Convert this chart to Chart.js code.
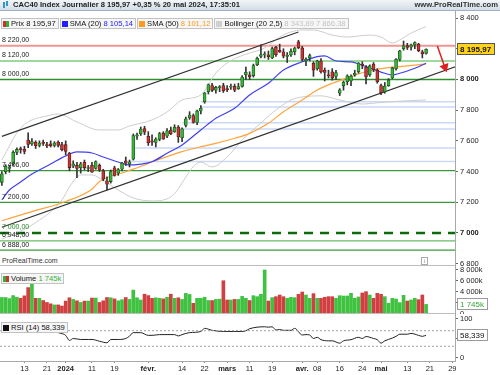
<!DOCTYPE html>
<html>
<head>
<meta charset="utf-8">
<script src="https://cdn.jsdelivr.net/npm/chart.js@4.4.1/dist/chart.umd.min.js"></script>
<style>
  body { margin: 0; width: 500px; height: 375px; overflow: hidden; background: #fff; position: relative;
         font-family: "Liberation Sans", Arial, sans-serif; color: #111; }
  canvas { position: absolute; left: 0; background: #fff; }
  .ov { position: absolute; white-space: nowrap; }
  #hdr { left: 0; top: 0; width: 500px; height: 10px; line-height: 10px; font-size: 7.6px; font-weight: bold;
         background: linear-gradient(#f2f5f8, #d4dde7); border-bottom: 1px solid #9fb0c2; color: #222; }
  .box { display: inline-block; height: 9px; line-height: 9px; border: 1px solid #c2c2c2; background: #f6f6f6;
         font-size: 7.6px; padding: 0 2px 0 1px; margin-right: 1px; }
  .sw { display: inline-block; width: 6px; height: 6px; margin-right: 2px; vertical-align: -0.5px; }
</style>
</head>
<body>
<canvas id="main" width="500" height="257" style="top:11px"></canvas>
<canvas id="vol" width="500" height="50" style="top:266px"></canvas>
<canvas id="rsi" width="500" height="61" style="top:314px"></canvas>

<div id="hdr" class="ov">
  <span style="position:absolute;left:3px;top:2px;width:2px;height:6px;background:#2b9ac9"></span>
  <span style="position:absolute;left:6px;top:1px;width:2px;height:5px;background:#2b9ac9"></span>
  <span style="position:absolute;left:13px">CAC40 Index Journalier 8 195,97 +0,35 % 20 mai 2024, 17:35:01</span>
  <span style="position:absolute;right:2px;color:#333">www.ProRealTime.com</span>
</div>
<div class="ov" style="left:1px;top:12px">
  <span class="box"><span class="sw" style="background:linear-gradient(90deg,#c83232 50%,#35b035 50%)"></span>Prix 8 195,97</span><span class="box"><span class="sw" style="background:#2020ff"></span>SMA (20) <span style="color:#2020ff">8 105,14</span></span><span class="box"><span class="sw" style="background:#ff9a1a"></span>SMA (50) <span style="color:#ff9a1a">8 101,12</span></span><span class="box"><span class="sw" style="background:#cfcfcf"></span>Bollinger (20 2,5) <span style="color:#c4c4c4">8 343,89 7 866,38</span></span>
</div>
<div class="ov" style="left:0;top:256px;width:455px;height:9px;background:#fff;border-bottom:1px solid #bdbdbd;font-size:7px;line-height:9px;color:#333">
  &nbsp;ProRealTime.com
  <span style="position:absolute;left:421px;top:1px;width:5px;height:6px;border:1px solid #aaa;font-size:5px;line-height:6px;text-align:center;color:#666">i</span>
</div>
<div class="ov" style="left:0;top:313px;width:455px;height:1px;background:#bdbdbd"></div>
<div class="ov" style="left:1px;top:267px"><span class="box"><span class="sw" style="background:linear-gradient(90deg,#35b035 50%,#c83232 50%)"></span>Volume <span style="color:#35b035">1 745k</span></span></div>
<div class="ov" style="left:1px;top:316px"><span class="box"><span class="sw" style="background:#111"></span>RSI (14) 58,339</span></div>

<script>
// sessions (dd/mm), Dec 2023 -> end of May 2024, last 8 are future days on the axis
const dates = [
  '05/12','06/12','07/12','08/12','11/12','12/12','13/12','14/12','15/12','18/12','19/12','20/12','21/12','22/12','27/12','28/12','29/12',
  '02/01','03/01','04/01','05/01','08/01','09/01','10/01','11/01','12/01','15/01','16/01','17/01','18/01','19/01','22/01','23/01','24/01','25/01','26/01','29/01','30/01','31/01',
  '01/02','02/02','05/02','06/02','07/02','08/02','09/02','12/02','13/02','14/02','15/02','16/02','19/02','20/02','21/02','22/02','23/02','26/02','27/02','28/02','29/02',
  '01/03','04/03','05/03','06/03','07/03','08/03','11/03','12/03','13/03','14/03','15/03','18/03','19/03','20/03','21/03','22/03','25/03','26/03','27/03','28/03',
  '02/04','03/04','04/04','05/04','08/04','09/04','10/04','11/04','12/04','15/04','16/04','17/04','18/04','19/04','22/04','23/04','24/04','25/04','26/04','29/04','30/04',
  '02/05','03/05','06/05','07/05','08/05','09/05','10/05','13/05','14/05','15/05','16/05','17/05','20/05',
  '21/05','22/05','23/05','24/05','27/05','28/05','29/05','30/05'
];

const opens = [
  7330,7400,7420,7450,7525,7545,7545,7605,7580,7590,7570,7590,7575,7580,7570,7590,7575,
  7575,7520,7435,7440,7425,7460,7420,7440,7420,7440,7405,7340,7335,7425,7390,7415,7470,7450,7480,7630,7645,7680,
  7630,7600,7590,7610,7650,7630,7670,7660,7690,7620,7700,7750,7765,7720,7795,7855,7920,7960,7930,7945,7960,
  7935,7950,7955,7940,7955,8030,8030,8025,8095,8150,8160,8160,8140,8210,8190,8180,8150,8160,8180,8245,
  8205,8120,8140,8105,8070,8120,8060,8030,8050,8020,7910,7960,7985,7990,8030,8050,8100,8080,8030,8100,8060,
  7960,7920,7960,8010,8070,8130,8200,8220,8210,8225,8230,8180,8170
];
const highs = [
  7400,7445,7440,7535,7555,7560,7565,7653,7615,7600,7600,7605,7590,7600,7595,7600,7590,
  7600,7525,7470,7460,7460,7475,7440,7460,7470,7450,7415,7365,7410,7435,7420,7460,7495,7475,7645,7650,7690,7695,
  7660,7640,7620,7655,7660,7680,7690,7705,7700,7685,7755,7790,7775,7800,7830,7915,7970,7975,7955,7960,7975,
  7960,7970,7970,7975,8025,8080,8050,8100,8145,8225,8180,8185,8210,8215,8230,8200,8175,8200,8210,8255,
  8215,8140,8165,8115,8125,8135,8075,8060,8070,8060,7940,7990,8030,8030,8060,8110,8115,8090,8095,8110,8070,
  7970,7980,8005,8080,8135,8190,8250,8235,8230,8245,8235,8190,8200
];
const lows = [
  7310,7385,7395,7440,7510,7520,7515,7555,7570,7550,7560,7570,7555,7560,7560,7560,7535,
  7510,7405,7425,7360,7390,7410,7400,7395,7415,7400,7340,7280,7325,7370,7375,7405,7440,7430,7475,7610,7635,7640,
  7570,7570,7560,7600,7610,7620,7640,7655,7590,7595,7690,7740,7715,7705,7775,7845,7905,7920,7910,7920,7915,
  7920,7935,7920,7935,7950,8000,8000,8015,8090,8140,8140,8130,8135,8150,8175,8140,8110,8150,8160,8200,
  8120,8090,8120,8020,8060,8040,7990,8010,7995,8000,7895,7930,7965,7960,8020,8040,8070,7970,8020,8050,7975,
  7900,7910,7955,8005,8060,8120,8190,8195,8190,8200,8180,8140,8165
];
const closes = [
  7386,7435,7427,7526,7544,7543,7531,7576,7596,7568,7586,7583,7569,7569,7585,7571,7543,
  7531,7426,7450,7420,7450,7426,7426,7396,7465,7411,7350,7318,7400,7375,7413,7456,7455,7464,7634,7640,7677,7656,
  7588,7592,7612,7647,7611,7665,7647,7689,7625,7678,7743,7768,7720,7795,7812,7911,7966,7929,7948,7954,7927,
  7934,7957,7930,7954,8016,8046,8018,8090,8138,8161,8164,8148,8201,8161,8179,8151,8152,8184,8204,8206,
  8130,8131,8155,8061,8119,8049,8045,8024,8010,8045,7932,7981,8023,8022,8040,8106,8091,8016,8088,8065,7985,
  7914,7957,7996,8075,8131,8187,8219,8209,8224,8240,8188,8167,8195.97
];
// volume, thousands
const volumes = [
  3000,3000,2800,3350,3050,2850,3300,4800,6800,2850,2850,2450,2100,1850,1650,1650,1450,
  2350,2950,2650,2400,2100,2350,2350,2900,2900,2100,2400,3000,2950,2750,2400,2600,3000,2650,4350,2950,2550,3600,
  3350,2850,2950,2850,2750,3050,3600,2850,2950,2650,3750,3550,1950,2850,2850,3050,2450,2450,2650,2700,6050,
  2550,2550,2650,2650,3200,2850,2450,3330,3150,3580,8000,2360,2970,3150,3450,3150,2850,3030,2970,3580,
  4000,3450,2850,3700,2850,2850,3030,3150,3150,2850,3330,3270,3270,3760,2850,3100,3820,4060,3450,2850,3760,
  3580,3150,1940,2850,2730,2060,3390,2360,2550,2850,2610,3450,1745
];

// indicator lines: session index -> value
const sma20At  = [0,2,5,8,13,17,20,24,27,31,34,37,40,44,48,53,57,62,66,71,75,80,84,86,89,93,97,101,104,106,110,113];
const sma20Val = [7215,7280,7332,7384,7449,7502,7528,7521,7495,7462,7443,7449,7464,7519,7573,7671,7747,7812,7899,7975,8061,8115,8148,8153,8120,8114,8083,8048,8029,8040,8073,8105];
const sma50At  = [0,8,17,24,26,33,38,40,44,48,53,57,62,66,71,75,80,84,88,93,97,102,106,113];
const sma50Val = [7080,7139,7205,7285,7335,7399,7443,7464,7497,7530,7562,7584,7617,7649,7714,7790,7866,7931,7975,8018,8050,8073,8083,8101];
const bollUpAt  = [0,5,13,15,20,26,31,34,40,44,48,53,57,60,63,66,70,74,77,80,83,88,92,98,101,104,106,109,113];
const bollUpVal = [7476,7684,7768,7775,7723,7671,7671,7697,7736,7788,7866,7899,8042,8107,8146,8172,8205,8276,8309,8322,8322,8289,8276,8289,8276,8237,8257,8302,8344];
const bollLoAt  = [0,8,16,18,21,24,26,31,35,40,45,53,56,60,64,69,72,77,80,85,90,96,101,107,113];
const bollLoVal = [6960,7052,7215,7300,7378,7378,7358,7280,7228,7209,7235,7462,7430,7495,7606,7716,7782,7866,7886,7893,7866,7840,7850,7860,7866];
const rsiAt  = [0,2,5,7,9,11,13,15,16,17,18,19,21,23,24,26,28,29,31,33,34,35,37,39,40,42,44,46,47,48,50,53,54,56,59,60,62,64,65,66,68,70,71,72,73,74,75,77,78,80,81,82,83,84,85,87,88,90,91,93,95,96,97,99,100,101,102,104,105,106,108,109,111,112,113];
const rsiVal = [68,70.5,70,74.6,73,70.5,68,65,62.5,58,45,50,47.5,47.5,47.5,43,39,47.5,47.5,50,56,65,65,58,58,60,60,60,56.5,60,65,68,76,71,68,68,68,68,70,75,79,80,79,80,71.7,73,71,71,76,59,60,59,50,53,47,44,44,38,44,47,53,50,55,50,47,38,44,51,55.5,61,61,63,58,55.5,58.339];

// drawn levels
const levelPrices = [8220, 8120, 8000, 7406, 7200, 7000, 6948, 6888];
const supportPrices = [7855, 7821, 7718, 7677, 7554, 7465];
const supportFrom = [53, 53, 48, 45, 35, 34];
const upperTrendAt = [0, 79], upperTrendPrice = [7629, 8309];
const lowerTrendAt = [0, 121], lowerTrendPrice = [7037, 8084];
const arrowAt = [116, 118], arrowPrice = [8218, 8080];

// x axis labels
const tickDates = ['13/12','21/12','02/01','11/01','19/01','01/02','14/02','22/02','01/03','11/03','19/03','02/04','08/04','16/04','24/04','02/05','13/05','21/05','29/05'];
const tickTexts = ['13','21','2024','11','19','févr.','14','22','mars','11','19','avr.','08','16','24','mai','13','21','29'];

const priceTicks = [8400, 8200, 8000, 7800, 7600, 7400, 7200, 7000, 6800];
const volTicks = [0, 2000, 4000, 6000, 8000];
const rsiTicks = [0, 50, 100];

// ===== helpers =====
Chart.defaults.font.family = '"Liberation Sans", Arial, sans-serif';
const X_MIN = -0.5, X_MAX = 120.7, X_END = dates.length - 1;
const fmt = (v, d) => {
  const [i, f] = v.toFixed(d).split('.');
  const s = i.replace(/\B(?=(\d{3})+(?!\d))/g, ' ');
  return f ? s + ',' + f : s;
};
const pts = (xs, ys) => xs.map((x, i) => ({ x, y: ys[i] }));
const up = closes.map((c, i) => c >= opens[i]);
const tickIdx = tickDates.map(d => dates.indexOf(d));

function noPad(s) { s.paddingTop = 0; s.paddingBottom = 0; s.paddingLeft = 0; s.paddingRight = 0; }
function xAxis(extra) {
  return Object.assign({ type: 'linear', min: X_MIN, max: X_MAX, offset: false, display: false,
    afterFit: noPad }, extra);
}
function yAxis(vals, cb, extra) {
  return Object.assign({
    position: 'right',
    afterFit: s => { s.width = 45; noPad(s); },
    afterBuildTicks: s => { s.ticks = vals.map(v => ({ value: v })); },
    grid: { drawOnChartArea: false, drawTicks: true, tickLength: 3, color: '#666' },
    border: { color: '#a8a8a8' },
    ticks: { autoSkip: false, padding: 2, color: '#222', font: { size: 7.5 }, callback: cb }
  }, extra);
}
function line(data, color, width, extra) {
  return Object.assign({ type: 'line', data, borderColor: color, borderWidth: width, pointRadius: 0,
    fill: false, cubicInterpolationMode: 'monotone' }, extra);
}
function tag(chart, y, text, fill, stroke, color, bold) {
  const ctx = chart.ctx, a = chart.chartArea;
  ctx.save();
  ctx.font = (bold ? 'bold ' : '') + '8px "Liberation Sans", Arial';
  const w = Math.ceil(ctx.measureText(text).width) + 5;
  ctx.fillStyle = fill; ctx.strokeStyle = stroke; ctx.lineWidth = 1;
  ctx.fillRect(a.right + 2.5, Math.round(y) - 5.5, w, 11);
  ctx.strokeRect(a.right + 2.5, Math.round(y) - 5.5, w, 11);
  ctx.fillStyle = color; ctx.textBaseline = 'middle';
  ctx.fillText(text, a.right + 5, Math.round(y) + 0.5);
  ctx.restore();
}
const common = { responsive: false, animation: false, events: [],
  plugins: { legend: { display: false }, tooltip: { enabled: false } },
  layout: { padding: 0, autoPadding: false } };

// ===== main price panel =====
const levelColor = ['#f29494', '#9dd89d', '#2f8f2f', '#3a9a3a', '#3a9a3a', '#0b6b0b', '#66bb66', '#3a9a3a'];
const levelWidth = [2, 2, 1.4, 1.2, 1.2, 2.5, 1.2, 1.2];
const mainSets = [];
levelPrices.forEach((p, k) => mainSets.push(line([{ x: X_MIN, y: p }, { x: X_END, y: p }], levelColor[k], levelWidth[k],
  { borderDash: p === 7000 ? [9, 7] : [], order: 30 })));
supportPrices.forEach((p, k) => mainSets.push(line([{ x: supportFrom[k], y: p }, { x: X_END, y: p }], '#c9d9f7', 1.5, { order: 29 })));
mainSets.push(line(pts(bollUpAt, bollUpVal), '#cdcdcd', 1, { order: 20 }));
mainSets.push(line(pts(bollLoAt, bollLoVal), '#cdcdcd', 1, { order: 20 }));
mainSets.push(line(pts(sma50At, sma50Val), '#ffa43a', 1.2, { order: 18 }));
mainSets.push(line(pts(sma20At, sma20Val), '#3f3ff2', 1.2, { order: 17 }));
mainSets.push(line(pts(upperTrendAt, upperTrendPrice), '#333', 1.2, { order: 15 }));
mainSets.push(line(pts(lowerTrendAt, lowerTrendPrice), '#333', 1.2, { order: 15 }));
mainSets.push({ type: 'bar', grouped: false, order: 3, barThickness: 1, backgroundColor: '#333',
  data: highs.map((h, i) => ({ x: i, y: [lows[i], h] })) });
mainSets.push({ type: 'bar', grouped: false, order: 2, barThickness: 3, minBarLength: 1, borderWidth: 0.8, borderSkipped: false,
  backgroundColor: up.map(u => u ? '#3cb43c' : '#cc3333'), borderColor: up.map(u => u ? '#1d5e1d' : '#5e1d1d'),
  data: opens.map((o, i) => ({ x: i, y: [o, closes[i]] })) });
mainSets.push(line(pts(arrowAt, arrowPrice), '#e02020', 1.5, { order: 1, cubicInterpolationMode: 'default',
  pointRadius: [0, 4], pointStyle: 'triangle', pointRotation: 160, pointBackgroundColor: '#e02020', pointBorderColor: '#e02020' }));

new Chart(document.getElementById('main'), {
  type: 'bar',
  data: { datasets: mainSets },
  options: Object.assign({}, common, {
    scales: {
      x: xAxis(),
      y: yAxis(priceTicks, v => fmt(v, 0), {
        min: 6772, max: 8445.6,
        ticks: { autoSkip: false, padding: 2, color: '#222', callback: v => fmt(v, 0),
          font: c => ({ size: 7.5, weight: c.tick && c.tick.value % 1000 === 0 ? 'bold' : 'normal' }) }
      })
    }
  }),
  plugins: [{
    id: 'levels',
    afterDatasetsDraw(chart) {
      const ctx = chart.ctx, y = chart.scales.y;
      ctx.save();
      ctx.font = '7px "Liberation Sans", Arial';
      ctx.textBaseline = 'bottom';
      levelPrices.forEach(p => {
        ctx.fillStyle = p === 7000 ? '#2a8a2a' : '#222';
        ctx.fillText(fmt(p, 2), 2, y.getPixelForValue(p) - 2);
      });
      ctx.restore();
    },
    afterDraw(chart) {
      const last = closes[closes.length - 1];
      tag(chart, chart.scales.y.getPixelForValue(last), fmt(last, 2), '#ffd21c', '#555', '#111', true);
    }
  }]
});

// ===== volume panel (canvas runs 2px under the RSI panel so the "0" label is half hidden) =====
new Chart(document.getElementById('vol'), {
  type: 'bar',
  data: { datasets: [{ grouped: false, barThickness: 3,
    backgroundColor: up.map(u => u ? '#3fc23f' : '#d04040'),
    data: volumes.map((v, i) => ({ x: i, y: v })) }] },
  options: Object.assign({}, common, {
    layout: { padding: { bottom: 2 }, autoPadding: false },
    scales: { x: xAxis(), y: yAxis(volTicks, v => fmt(v, 0) + (v ? 'k' : ''), { min: 0, max: 8727 }) }
  }),
  plugins: [{ id: 'vtag', afterDraw(chart) {
    const v = volumes[volumes.length - 1];
    tag(chart, chart.scales.y.getPixelForValue(v), fmt(v, 0) + 'k', '#fff', '#9a9a9a', '#33aa33', false);
  } }]
});

// ===== RSI panel =====
new Chart(document.getElementById('rsi'), {
  type: 'line',
  data: { datasets: [
    line([{ x: X_MIN, y: 70 }, { x: X_MAX, y: 70 }], '#a0a0a0', 1, { borderDash: [2, 2] }),
    line([{ x: X_MIN, y: 30 }, { x: X_MAX, y: 30 }], '#a0a0a0', 1, { borderDash: [2, 2] }),
    line(pts(rsiAt, rsiVal), '#222', 1)
  ] },
  options: Object.assign({}, common, {
    scales: {
      x: xAxis({ display: true, position: 'bottom',
        afterFit: s => { s.height = 14; noPad(s); },
        afterBuildTicks: s => { s.ticks = tickIdx.map(v => ({ value: v })); },
        grid: { drawOnChartArea: false, drawTicks: true, tickLength: 2, color: '#888' },
        border: { color: '#a8a8a8' },
        ticks: { autoSkip: false, maxRotation: 0, minRotation: 0, padding: 1, color: '#222',
          callback: (v, i) => tickTexts[i],
          font: c => ({ size: 7.5, weight: tickTexts[c.index] && tickTexts[c.index].length > 2 ? 'bold' : 'normal' }) }
      }),
      y: yAxis(rsiTicks, v => String(v), { min: -7.7, max: 112.8 })
    }
  }),
  plugins: [{ id: 'rtag', afterDraw(chart) {
    const v = rsiVal[rsiVal.length - 1];
    tag(chart, chart.scales.y.getPixelForValue(v), fmt(v, 3), '#fff', '#9a9a9a', '#111', false);
  } }]
});
</script>
</body>
</html>
